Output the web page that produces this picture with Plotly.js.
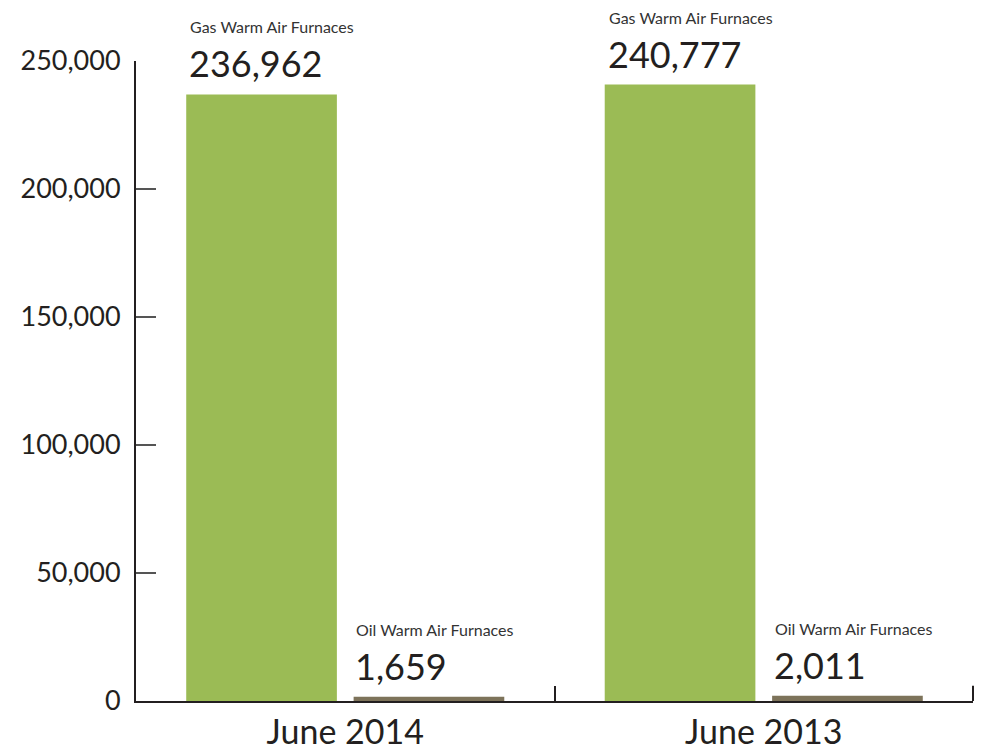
<!DOCTYPE html>
<html>
<head>
<meta charset="utf-8">
<script src="https://cdn.plot.ly/plotly-3.0.1.min.js"></script>
<style>html,body{margin:0;padding:0;background:#fff;}#chart{width:985px;height:752px;}</style>
</head>
<body>
<div id="chart"></div>
<script>
const categories = ['June 2014', 'June 2013'];
const seriesNames = ['Gas Warm Air Furnaces', 'Oil Warm Air Furnaces'];
const gasValues = [236962, 240777];
const oilValues = [1659, 2011];
const yTickVals = [0, 50000, 100000, 150000, 200000, 250000];
const yTickText = ['0', '50,000', '100,000', '150,000', '200,000', '250,000'];

const textColor = '#231f20';
const fontFam = 'Lato, "Open Sans", sans-serif';

const traces = [
  {type: 'bar', name: seriesNames[0], x: categories, y: gasValues, marker: {color: '#9bbb55'}, hoverinfo: 'x+y'},
  {type: 'bar', name: seriesNames[1], x: categories, y: oilValues, marker: {color: '#7d735a'}, hoverinfo: 'x+y'}
];

const annotations = [];
const seriesVals = [gasValues, oilValues];
const xShifts = [-158, 8];
seriesVals.forEach((vals, s) => {
  categories.forEach((c, i) => {
    annotations.push({
      x: c, y: vals[i], xref: 'x', yref: 'y', xanchor: 'left', yanchor: 'bottom',
      xshift: xShifts[s], yshift: 7, showarrow: false,
      text: vals[i].toLocaleString('en-US'),
      font: {family: fontFam, size: 36, color: textColor}
    });
    annotations.push({
      x: c, y: vals[i], xref: 'x', yref: 'y', xanchor: 'left', yanchor: 'bottom',
      xshift: xShifts[s] + 1, yshift: 56, showarrow: false,
      text: seriesNames[s],
      font: {family: fontFam, size: 16, color: '#333'}
    });
  });
});

const layout = {
  width: 985, height: 752,
  margin: {l: 136, r: 12, t: 61, b: 51},
  paper_bgcolor: '#fff', plot_bgcolor: '#fff',
  showlegend: false,
  barmode: 'group', bargap: 0.2, bargroupgap: 0.1,
  font: {family: fontFam, color: textColor},
  xaxis: {
    type: 'category', showline: true, linecolor: textColor, linewidth: 2,
    ticks: 'inside', tickson: 'boundaries', ticklen: 15, tickwidth: 2, tickcolor: textColor,
    tickfont: {family: fontFam, size: 34, color: textColor},
    ticklabelstandoff: 0,
    showgrid: false, zeroline: false, fixedrange: true
  },
  yaxis: {
    range: [0, 250000], showline: true, linecolor: textColor, linewidth: 2,
    ticks: 'inside', ticklen: 20, tickwidth: 2, tickcolor: '#555',
    tickvals: yTickVals, ticktext: yTickText,
    tickfont: {family: fontFam, size: 27, color: textColor},
    ticklabelstandoff: 8,
    showgrid: false, zeroline: false, fixedrange: true
  },
  shapes: [{type: 'line', xref: 'paper', yref: 'paper', x0: 1, x1: 1, y0: 0, y1: 0.024,
            line: {color: textColor, width: 2}}],
  annotations: annotations
};

Plotly.newPlot('chart', traces, layout, {displayModeBar: false, staticPlot: true});
</script>
</body>
</html>
